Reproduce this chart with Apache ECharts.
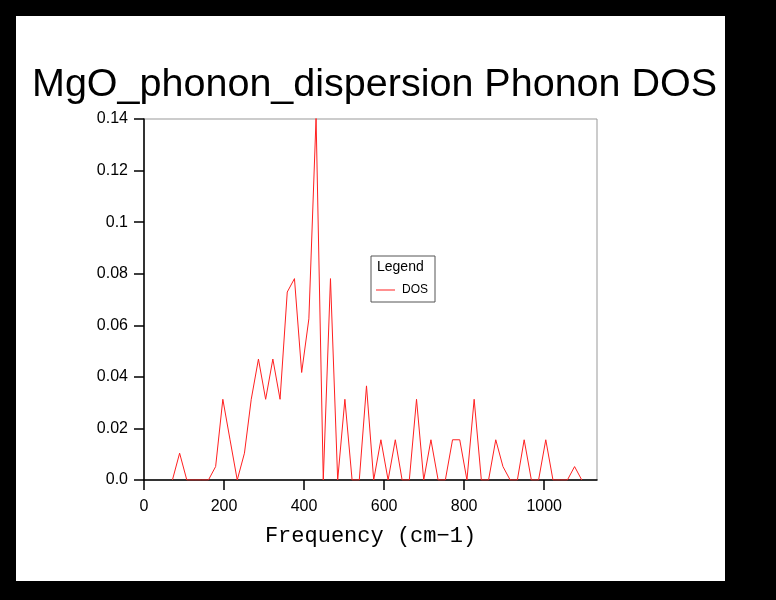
<!DOCTYPE html>
<html>
<head>
<meta charset="utf-8">
<script src="https://cdn.jsdelivr.net/npm/echarts@6/dist/echarts.min.js"></script>
<style>
html,body{margin:0;padding:0;background:#000;}
#chart{width:776px;height:600px;}
</style>
</head>
<body>
<div id="chart"></div>
<script>
var titleText = 'MgO_phonon_dispersion Phonon DOS';
var xAxisName = 'Frequency (cm\u22121)';
var seriesName = 'DOS';
var legendTitle = 'Legend';

var freqs = [71, 89, 107, 125, 143, 161, 179, 197, 215, 233,
             251, 268, 286, 304, 322, 340, 358, 376, 394, 412,
             430, 448, 466, 484, 502, 520, 538, 556, 574, 592,
             610, 628, 645, 663, 681, 699, 717, 735, 753, 771,
             789, 807, 825, 843, 861, 879, 897, 915, 933, 950,
             968, 986, 1004, 1022, 1040, 1058, 1076, 1094];
var dos = [0, 0.0104, 0, 0, 0, 0, 0.0052, 0.0313, 0.0156, 0,
           0.0104, 0.0313, 0.0469, 0.0313, 0.0469, 0.0313, 0.0729, 0.0781, 0.0417, 0.0625,
           0.1406, 0, 0.0781, 0, 0.0313, 0, 0, 0.0365, 0, 0.0156,
           0, 0.0156, 0, 0, 0.0313, 0, 0.0156, 0, 0, 0.0156,
           0.0156, 0, 0.0313, 0, 0, 0.0156, 0.0052, 0, 0, 0.0156,
           0, 0, 0.0156, 0, 0, 0, 0.0052, 0];
var xTicks = [0, 200, 400, 600, 800, 1000];

var data = freqs.map(function (f, i) { return [f, dos[i]]; });

var chart = echarts.init(document.getElementById('chart'));
chart.setOption({
  backgroundColor: '#000',
  animation: false,
  graphic: [{
    type: 'rect', z: -10, silent: true,
    shape: { x: 16, y: 16, width: 709, height: 565 },
    style: { fill: '#fff' }
  }],
  title: [{
    text: titleText,
    left: 27, top: 60,
    textStyle: { fontFamily: 'Liberation Sans', fontSize: 39.5, fontWeight: 'normal', color: '#000' }
  }, {
    text: legendTitle,
    left: 372, top: 255,
    textStyle: { fontFamily: 'Liberation Sans', fontSize: 14, fontWeight: 'normal', color: '#000' }
  }],
  legend: {
    data: [seriesName],
    left: 371, top: 256,
    orient: 'vertical',
    padding: [28, 7, 6, 5],
    borderColor: '#555', borderWidth: 1,
    backgroundColor: '#fff',
    icon: 'rect',
    itemWidth: 19, itemHeight: 1,
    itemGap: 0,
    textStyle: { fontFamily: 'Liberation Sans', fontSize: 12, color: '#000', padding: [0, 0, 0, 2] }
  },
  grid: {
    left: 144, top: 119, width: 453, height: 361,
    show: true, borderColor: '#999', borderWidth: 1,
    containLabel: false
  },
  xAxis: {
    type: 'value', min: 0, max: 1132, interval: 200,
    name: xAxisName, nameLocation: 'middle', nameGap: 45,
    nameTextStyle: { fontFamily: 'Liberation Mono', fontSize: 22, color: '#000' },
    axisLine: { show: true, onZero: false, lineStyle: { color: '#000', width: 1.5 } },
    axisTick: { show: true, length: 10, lineStyle: { color: '#000', width: 1.5 } },
    axisLabel: {
      fontFamily: 'Liberation Sans', fontSize: 16, color: '#000', margin: 19,
      showMaxLabel: false,
      formatter: function (v) { return xTicks.indexOf(v) >= 0 ? String(v) : ''; }
    },
    splitLine: { show: false }
  },
  yAxis: {
    type: 'value', min: 0, max: 0.14, interval: 0.02,
    axisLine: { show: true, lineStyle: { color: '#000', width: 1.5 } },
    axisTick: { show: true, length: 10, lineStyle: { color: '#000', width: 1.5 } },
    axisLabel: {
      fontFamily: 'Liberation Sans', fontSize: 16, color: '#000', margin: 16,
      formatter: function (v) {
        if (v === 0) return '0.0';
        return String(parseFloat(v.toFixed(4)));
      }
    },
    splitLine: { show: false }
  },
  series: [{
    name: seriesName,
    type: 'line',
    data: data,
    showSymbol: false,
    symbol: 'none',
    lineStyle: { color: '#ff2020', width: 1 },
    itemStyle: { color: '#ff2020' },
    clip: true
  }]
});
</script>
</body>
</html>
